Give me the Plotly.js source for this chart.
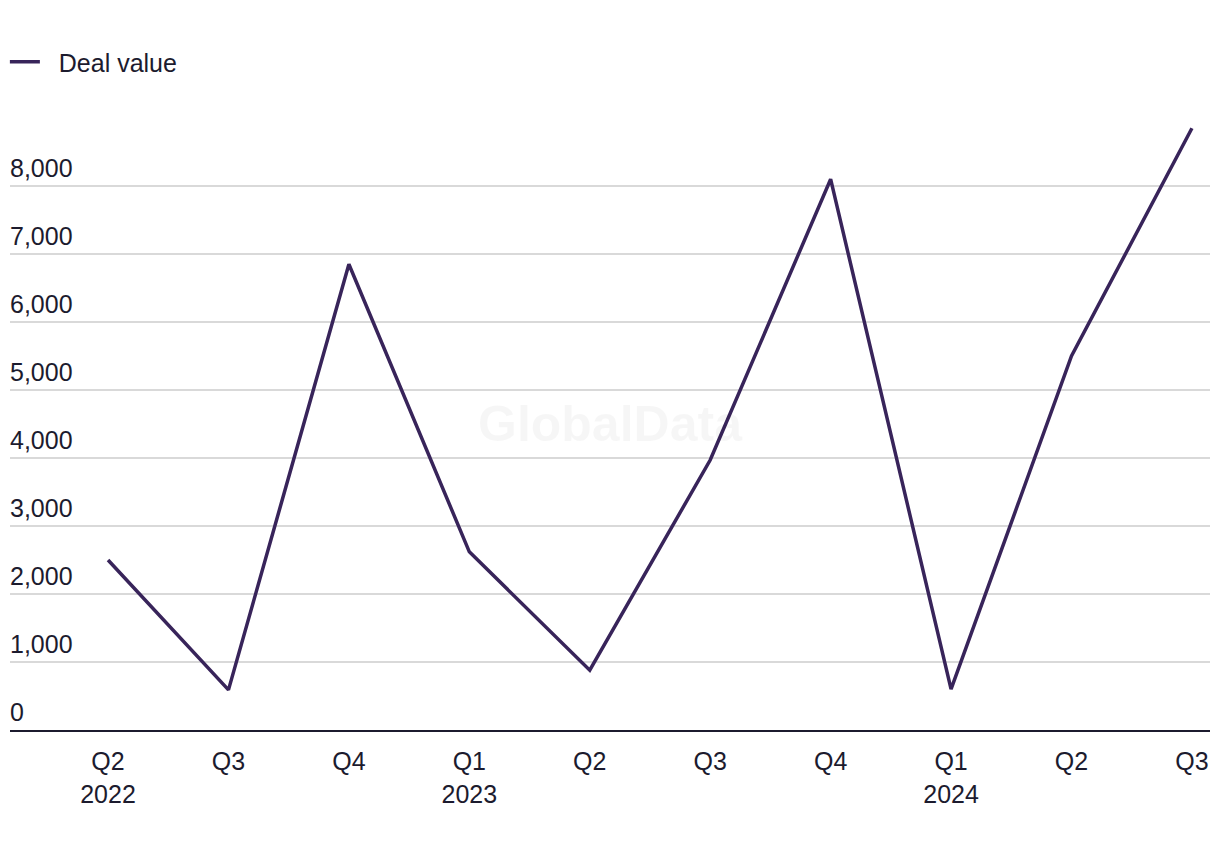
<!DOCTYPE html>
<html>
<head>
<meta charset="utf-8">
<script src="https://cdn.plot.ly/plotly-3.0.1.min.js"></script>
<style>html,body{margin:0;padding:0;background:#fff;}#chart{width:1220px;height:850px;}</style>
</head>
<body>
<div id="chart"></div>
<script>
const quarters = ["Q2<br>2022","Q3","Q4","Q1<br>2023","Q2","Q3","Q4","Q1<br>2024","Q2","Q3"];
const dealValue = [2500, 590, 6850, 2620, 880, 3970, 8100, 600, 5500, 8850];
const seriesName = "Deal value";
const xIdx = quarters.map((_, i) => i);

const fontFam = "'Liberation Sans', Arial, sans-serif";
const textColor = "#1c1b2e";

Plotly.newPlot("chart", [{
  x: xIdx,
  y: dealValue,
  type: "scatter",
  mode: "lines",
  name: "&nbsp;&nbsp;" + seriesName,
  line: {color: "#38245a", width: 3.5}
}], {
  width: 1220,
  height: 850,
  margin: {l: 10, r: 10, t: 118, b: 120},
  paper_bgcolor: "#fff",
  plot_bgcolor: "#fff",
  font: {family: fontFam, size: 25, color: textColor},
  showlegend: true,
  legend: {
    orientation: "h",
    x: 0.004, xref: "container", xanchor: "left",
    y: 1 - 62/850, yref: "container", yanchor: "middle",
    font: {size: 25, color: textColor},
    itemwidth: 30
  },
  xaxis: {
    range: [-0.814, 9.15],
    tickmode: "array",
    tickvals: xIdx,
    ticktext: quarters,
    showgrid: false,
    zeroline: false,
    showline: true,
    linecolor: "#1c1b2e",
    linewidth: 2,
    ticks: "",
    ticklabelstandoff: 8,
    tickfont: {size: 25, color: textColor},
    fixedrange: true
  },
  yaxis: {
    range: [0, 9000],
    tickmode: "array",
    tickvals: [0,1000,2000,3000,4000,5000,6000,7000,8000],
    tickformat: ",d",
    ticklabelposition: "inside top",
    ticklabelstandoff: -3,
    showgrid: true,
    gridcolor: "#d9d9d9",
    gridwidth: 2,
    zeroline: false,
    showline: false,
    ticks: "",
    tickfont: {size: 25, color: textColor},
    fixedrange: true
  },
  annotations: [{
    text: "<b>GlobalData</b>",
    xref: "paper", yref: "paper",
    x: 0.5, y: 0.5,
    showarrow: false,
    font: {size: 50, color: "rgba(0,0,0,0.035)", family: fontFam}
  }]
}, {displayModeBar: false, staticPlot: true});
</script>
</body>
</html>
